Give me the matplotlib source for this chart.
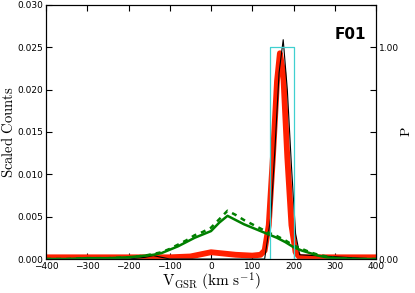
import numpy as np
import matplotlib
matplotlib.use("Agg")
import matplotlib.pyplot as plt

plt.rcParams['mathtext.fontset'] = 'cm'
plt.rcParams['xtick.direction'] = 'in'
plt.rcParams['ytick.direction'] = 'in'

# green histogram (solid) and model (dashed)
v_green = [-400, -350, -300, -250, -200, -180, -160, -140, -120, -100, -80, -60, -40, -20,
           0, 20, 40, 60, 80, 100, 120, 140, 160, 180, 200, 220, 240, 260, 280, 300, 350, 400]
green_solid = [0.0000, 0.0000, 0.0001, 0.0001, 0.0002, 0.0003, 0.0004, 0.0005, 0.0007, 0.0011,
               0.0015, 0.0020, 0.0025, 0.0029, 0.0033, 0.0043, 0.0051, 0.0046, 0.0041, 0.0037,
               0.0033, 0.0029, 0.0025, 0.0020, 0.0014, 0.0010, 0.0007, 0.0004, 0.0002, 0.0001,
               0.0000, 0.0000]
green_dash = [0.0000, 0.0000, 0.0001, 0.0001, 0.0002, 0.0003, 0.0004, 0.0006, 0.0008, 0.0012,
              0.0017, 0.0022, 0.0028, 0.0032, 0.0037, 0.0047, 0.0057, 0.0052, 0.0046, 0.0041,
              0.0036, 0.0031, 0.0027, 0.0022, 0.0016, 0.0012, 0.0008, 0.0005, 0.0003, 0.0001,
              0.0000, 0.0000]

# red thick curve
v_red = [-400, -100, -50, -20, 0, 20, 60, 100, 120, 130, 140, 150, 160, 167, 175, 185, 195,
         205, 215, 400]
red = [0.0002, 0.0002, 0.0003, 0.0006, 0.0008, 0.0007, 0.0005, 0.0004, 0.0005, 0.0010,
       0.0040, 0.0120, 0.0210, 0.0243, 0.0220, 0.0120, 0.0040, 0.0008, 0.0002, 0.0002]

# thin black curve
v_black = [-400, -200, -160, -140, -120, -100, 130, 145, 155, 165, 175, 185, 195, 205, 215, 400]
black = [0.0, 0.0, 0.0002, 0.0004, 0.0002, 0.0, 0.0, 0.0050, 0.0130, 0.0220, 0.0259, 0.0200,
         0.0110, 0.0030, 0.0005, 0.0]

# cyan selection window (right axis)
v_cyan = [-400, 143, 143, 201, 201, 400]
p_cyan = [0.0, 0.0, 1.0, 1.0, 0.0, 0.0]

fig = plt.figure(figsize=(4.15, 2.93), dpi=100)
ax = fig.add_axes([0.111, 0.116, 0.795, 0.867])

ax.plot(v_red, red, color='#ff2000', lw=4.2, solid_joinstyle='round')
ax.plot(v_black, black, color='black', lw=0.8)
ax.plot(v_green, green_solid, color='green', lw=1.8)
ax.plot(v_green, green_dash, color='green', lw=1.8, ls='--', dashes=(2, 2))

ax.set_xlim(-400, 400)
ax.set_ylim(0, 0.030)
ax.set_xticks(np.arange(-400, 401, 100))
ax.set_yticks(np.arange(0, 0.0301, 0.005))
ax.yaxis.set_major_formatter(matplotlib.ticker.FormatStrFormatter('%.3f'))
ax.tick_params(labelsize=6.5, length=4, top=True, pad=2)
ax.set_xlabel(r'$\mathrm{V_{GSR}\ (km\ s^{-1})}$', fontsize=11, labelpad=0)
ax.set_ylabel(r'$\mathrm{Scaled\ Counts}$', fontsize=10.5, labelpad=1)
ax.text(0.97, 0.885, 'F01', transform=ax.transAxes, ha='right', va='center',
        fontsize=11, fontweight='bold')

ax2 = ax.twinx()
ax2.plot(v_cyan, p_cyan, color='#40d0d0', lw=0.9)
ax2.set_ylim(0, 1.2)
ax2.set_yticks(np.arange(0, 1.21, 0.2))
ax2.set_yticklabels(['0.00', '', '', '', '', '1.00', ''])
ax2.tick_params(labelsize=6.5, length=4, pad=2)
ax2.set_ylabel(r'$\mathrm{P}$', fontsize=10, labelpad=0)

fig.savefig('out.png', dpi=100)
